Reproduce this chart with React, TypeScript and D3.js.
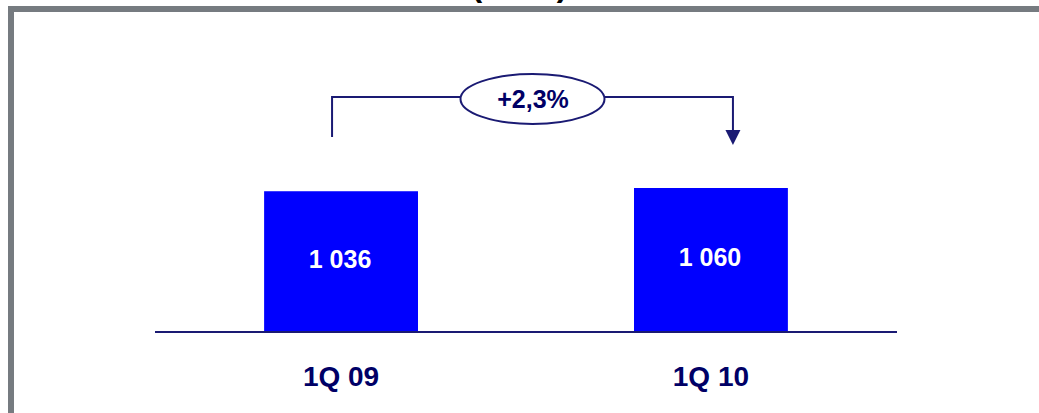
import React from "react";
import * as d3 from "d3";

const categories = ["1Q 09", "1Q 10"];
const values = [1036, 1060];
const valueLabels = ["1 036", "1 060"];
const changeLabel = "+2,3%";
const titleText = "(GWh)";

const W = 1039;
const H = 413;
const NAVY = "#000066";
const LINE = "#1a1a73";
const FONT = "Liberation Sans, Arial, sans-serif";

export default function App() {
  const x = d3
    .scaleBand<string>()
    .domain(categories)
    .range([155, 897])
    .paddingInner(0.584)
    .paddingOuter(0.295);
  const baseY = 331;
  const y = d3.scaleLinear().domain([0, d3.max(values) as number]).range([baseY, 188]);
  const bw = x.bandwidth();

  const c0 = (x(categories[0]) as number) + bw / 2;
  const c1 = (x(categories[1]) as number) + bw / 2;
  const lx = c0 - 9;
  const rx = c1 + 22;
  const topY = 97;
  const midX = (lx + rx) / 2;
  const ellRx = 72;
  const ellRy = 25;
  const ellCy = 99;

  return (
    <svg
      width={W}
      height={H}
      style={{ position: "absolute", left: 0, top: 0, background: "#fff" }}
      fontFamily={FONT}
    >
      <rect x={0} y={0} width={W} height={H} fill="#fff" />
      <text x={W / 2} y={-4} textAnchor="middle" fontSize={32} fontWeight="bold" fill="#000">
        {titleText}
      </text>
      <rect x={11} y={9} width={1200} height={600} fill="none" stroke="#767b80" strokeWidth={6} />

      {/* bracket */}
      <path
        d={`M${lx},137 V${topY} H${midX - ellRx} M${midX + ellRx},${topY} H${rx} V131`}
        fill="none"
        stroke={LINE}
        strokeWidth={2}
      />
      <path d={`M${rx - 7.5},130 L${rx + 7.5},130 L${rx},145 Z`} fill={LINE} />
      <ellipse cx={midX} cy={ellCy} rx={ellRx} ry={ellRy} fill="#fff" stroke={LINE} strokeWidth={2} />
      <text x={midX + 0.5} y={108} textAnchor="middle" fontSize={25} fontWeight="bold" fill={NAVY}>
        {changeLabel}
      </text>

      {categories.map((c, i) => (
        <g key={c}>
          <rect
            x={x(c) as number}
            y={y(values[i])}
            width={bw}
            height={baseY - y(values[i])}
            fill="#0000ff"
          />
          <text
            x={(x(c) as number) + bw / 2 - 1}
            y={i === 0 ? 268 : 266}
            textAnchor="middle"
            fontSize={25}
            fontWeight="bold"
            fill="#fff"
          >
            {valueLabels[i]}
          </text>
          <text
            x={(x(c) as number) + bw / 2}
            y={386}
            textAnchor="middle"
            fontSize={28}
            fontWeight="bold"
            fill={NAVY}
          >
            {c}
          </text>
        </g>
      ))}

      <line x1={155} x2={897} y1={baseY + 1} y2={baseY + 1} stroke={LINE} strokeWidth={2} />
    </svg>
  );
}
